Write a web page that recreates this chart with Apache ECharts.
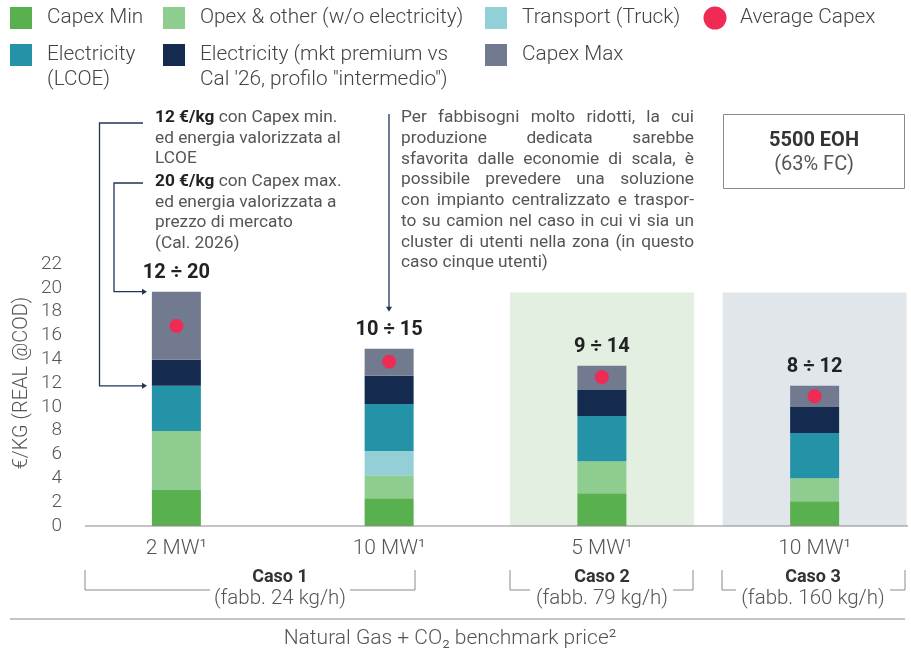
<!DOCTYPE html>
<html><head><meta charset="utf-8">
<script src="https://cdn.jsdelivr.net/npm/echarts@6/dist/echarts.min.js"></script>
<style>html,body{margin:0;padding:0;background:#fff}#c{width:911px;height:654px}</style>
</head><body><div id="c"></div><script>
// ---------- DATA ----------
const categories = ['2 MW¹', '10 MW¹', '5 MW¹', '10 MW¹'];
const capexMin    = [3.02, 2.32, 2.74, 2.07];
const opexOther   = [4.95, 1.94, 2.70, 1.94];
const transport   = [0, 2.03, 0, 0];
const elecLcoe    = [3.80, 3.96, 3.80, 3.80];
const elecPremium = [2.20, 2.37, 2.19, 2.19];
const capexMax    = [5.71, 2.27, 2.03, 1.77];
const averageCapex = [16.8, 13.8, 12.5, 10.9];
const rangeLabels = ['12 ÷ 20', '10 ÷ 15', '9 ÷ 14', '8 ÷ 12'];
const highlightTop = [null, null, 19.6, 19.6];
const yTicks = { min: 0, max: 22, interval: 2 };
const yName = '€/KG (REAL @COD)';
const xTitle = 'Natural Gas + CO₂ benchmark price²';

const COL = {
  capexMin: '#58b04f', opex: '#8fcc8f', transport: '#93cfd6', lcoe: '#2493a8',
  premium: '#142a4f', capexMax: '#717a8e', avg: '#ee2a55',
  bg2: '#e3efe1', bg3: '#e1e6ea', line: '#1f3558', grey: '#8a8a8a'
};
const FF = 'Roboto, "Noto Sans", sans-serif';

function T(x, y, text, size, o) {
  o = o || {};
  const align = o.align || 'left', va = o.va || 'middle';
  return { type: 'text', x: x, y: y, silent: true, z: 10,
    style: { text: text, fontSize: size, fontFamily: FF, fontWeight: o.weight || 400,
      fill: o.fill || '#555', align: align, textAlign: align, verticalAlign: va, textVerticalAlign: va,
      lineHeight: o.lh, rich: o.rich } };
}
function PL(points, color, w) {
  return { type: 'polyline', silent: true, z: 10, shape: { points: points },
    style: { stroke: color, lineWidth: w || 1, fill: null } };
}
function PG(points, color) {
  return { type: 'polygon', silent: true, z: 10, shape: { points: points }, style: { fill: color } };
}
function justified(lines, x, y0, width, lh, size, color) {
  const ctx = document.createElement('canvas').getContext('2d');
  ctx.font = '400 ' + size + 'px Roboto';
  const els = [];
  lines.forEach((ln, i) => {
    const y = y0 + i * lh;
    const words = ln.split(' ');
    if (i === lines.length - 1 || words.length === 1) { els.push(T(x, y, ln, size, { fill: color })); return; }
    const total = words.reduce((s, w) => s + ctx.measureText(w).width, 0);
    const gap = (width - total) / (words.length - 1);
    let cx = x;
    words.forEach(w => { els.push(T(cx, y, w, size, { fill: color })); cx += ctx.measureText(w).width + gap; });
  });
  return els;
}

const chart = echarts.init(document.getElementById('c'), null, { renderer: 'canvas' });
const barBase = { type: 'bar', stack: 'cost', barWidth: 49, z: 3, silent: true };

chart.setOption({
  animation: false,
  backgroundColor: '#fff',
  textStyle: { fontFamily: FF },
  grid: { left: 70, width: 851, top: 264, bottom: 128, containLabel: false, outerBoundsMode: 'none' },
  xAxis: [
    { type: 'category', data: categories, axisLine: { show: false }, axisTick: { show: false },
      axisLabel: { fontSize: 21, fontWeight: 300, color: '#555', margin: 12, fontFamily: FF } },
    { type: 'category', data: categories, show: false }
  ],
  yAxis: { type: 'value', min: yTicks.min, max: yTicks.max, interval: yTicks.interval,
    splitLine: { show: false }, axisLine: { show: false }, axisTick: { show: false },
    axisLabel: { fontSize: 19, fontWeight: 300, color: '#555', margin: 8, fontFamily: FF } },
  series: [
    { type: 'bar', name: 'bg', xAxisIndex: 1, barWidth: 184, silent: true, z: 1,
      data: highlightTop.map((v, i) => v == null ? null : { value: v, itemStyle: { color: i === 2 ? COL.bg2 : COL.bg3 } }) },
    Object.assign({}, barBase, { name: 'Capex Min', data: capexMin, itemStyle: { color: COL.capexMin } }),
    Object.assign({}, barBase, { name: 'Opex & other (w/o electricity)', data: opexOther, itemStyle: { color: COL.opex } }),
    Object.assign({}, barBase, { name: 'Transport (Truck)', data: transport, itemStyle: { color: COL.transport } }),
    Object.assign({}, barBase, { name: 'Electricity (LCOE)', data: elecLcoe, itemStyle: { color: COL.lcoe } }),
    Object.assign({}, barBase, { name: 'Electricity (mkt premium vs Cal \'26, profilo "intermedio")', data: elecPremium, itemStyle: { color: COL.premium } }),
    Object.assign({}, barBase, { name: 'Capex Max', data: capexMax, itemStyle: { color: COL.capexMax },
      label: { show: true, position: 'top', distance: 9, fontSize: 20, fontWeight: 'bold', color: '#222', fontFamily: FF,
        formatter: p => rangeLabels[p.dataIndex] } }),
    { type: 'scatter', name: 'Average Capex', data: averageCapex, symbolSize: 14, z: 5, silent: true,
      itemStyle: { color: COL.avg, opacity: 1 } }
  ]
});

// annotation anchors derived from the data via the axis scale
const yPix = v => chart.convertToPixel({ yAxisIndex: 0 }, v);
const yLow = yPix(capexMin[0] + opexOther[0] + transport[0] + elecLcoe[0]);
const yHigh = yPix(capexMin[0] + opexOther[0] + transport[0] + elecLcoe[0] + elecPremium[0] + capexMax[0]);
const yBar2 = yPix(capexMin[1] + opexOther[1] + transport[1] + elecLcoe[1] + elecPremium[1] + capexMax[1]);
const axisY = yPix(0);

const g = [];
// legend
const LS = 20.8;
const legendItems = [
  { x: 10, y: 7, c: COL.capexMin, t: 'Capex Min' },
  { x: 163, y: 7, c: COL.opex, t: 'Opex & other (w/o electricity)' },
  { x: 485, y: 7, c: COL.transport, t: 'Transport (Truck)' },
  { x: 10, y: 44, c: COL.lcoe, t: 'Electricity\n(LCOE)' },
  { x: 163, y: 44, c: COL.premium, t: 'Electricity (mkt premium vs\nCal \'26, profilo "intermedio")' },
  { x: 485, y: 44, c: COL.capexMax, t: 'Capex Max' }
];
legendItems.forEach(it => {
  g.push({ type: 'rect', silent: true, shape: { x: it.x, y: it.y, width: 22, height: 22 }, style: { fill: it.c } });
  g.push(T(it.x + 37, it.y + 11 - 12.5, it.t, LS, { va: 'top', lh: 25, weight: 300, fill: '#444' }));
});
g.push({ type: 'circle', silent: true, shape: { cx: 715, cy: 18, r: 11.5 }, style: { fill: COL.avg } });
g.push(T(740, 18 - 12.5, 'Average Capex', LS, { va: 'top', lh: 25, weight: 300, fill: '#444' }));

// axis line
g.push(PL([[85, axisY], [908, axisY]], COL.grey, 1.2));

// y axis name
g.push({ type: 'text', x: 22, y: 383, rotation: Math.PI / 2, silent: true,
  style: { text: yName, fontSize: 20, fontWeight: 300, fontFamily: FF, fill: '#555',
    align: 'center', textAlign: 'center', verticalAlign: 'middle', textVerticalAlign: 'middle' } });

// annotation 1
const AS = 17.3;
const rich = { b: { fontWeight: 'bold', fontSize: AS, fontFamily: FF, fill: '#222', color: '#222', lineHeight: 20.5 },
               n: { fontSize: AS, fontFamily: FF, fill: '#555', color: '#555', lineHeight: 20.5 } };
g.push(T(155, 118 - 10.25, '{b|12 €/kg}{n| con Capex min.}\n{n|ed energia valorizzata al}\n{n|LCOE}', AS, { va: 'top', lh: 20.5, rich: rich }));
g.push(T(155, 182 - 10.25, '{b|20 €/kg}{n| con Capex max.}\n{n|ed energia valorizzata a}\n{n|prezzo di mercato}\n{n|(Cal. 2026)}', AS, { va: 'top', lh: 20.5, rich: rich }));
g.push(PL([[143, 123], [99.5, 123], [99.5, yLow], [144, yLow]], COL.line, 1.3));
g.push(PG([[142, yLow - 3], [147, yLow], [142, yLow + 3]], COL.line));
g.push(PL([[143, 183], [114, 183], [114, yHigh], [144, yHigh]], COL.line, 1.3));
g.push(PG([[142, yHigh - 3], [147, yHigh], [142, yHigh + 3]], COL.line));

// annotation 2
g.push(PL([[389, 114], [389, yBar2 - 40]], COL.line, 1.3));
g.push(PG([[386, yBar2 - 42], [389, yBar2 - 37], [392, yBar2 - 42]], COL.line));
g.push.apply(g, justified([
  'Per fabbisogni molto ridotti, la cui',
  'produzione dedicata sarebbe',
  'sfavorita dalle economie di scala, è',
  'possibile prevedere una soluzione',
  'con impianto centralizzato e traspor-',
  'to su camion nel caso in cui vi sia un',
  'cluster di utenti nella zona (in questo',
  'caso cinque utenti)'
], 401, 118, 293, 20.7, AS, '#555'));

// EOH box
g.push({ type: 'rect', silent: true, shape: { x: 723.5, y: 114.5, width: 181, height: 74 },
  style: { fill: null, stroke: COL.grey, lineWidth: 1 } });
g.push(T(814, 141, '5500 EOH', 20, { align: 'center', weight: 'bold', fill: '#333' }));
g.push(T(814, 165, '(63% FC)', 20, { align: 'center', fill: '#555' }));

// case brackets
const br = '#8a8a8a';
g.push(PL([[85, 570], [85, 590], [210, 590]], br, 1));
g.push(PL([[350, 590], [415, 590], [415, 570]], br, 1));
g.push(PL([[510, 570], [510, 590], [530, 590]], br, 1));
g.push(PL([[673, 590], [693, 590], [693, 570]], br, 1));
g.push(PL([[722, 570], [722, 590], [736, 590]], br, 1));
g.push(PL([[890, 590], [905, 590], [905, 570]], br, 1));
[[280, 'Caso 1', '(fabb. 24 kg/h)'], [602, 'Caso 2', '(fabb. 79 kg/h)'], [813, 'Caso 3', '(fabb. 160 kg/h)']].forEach(c => {
  g.push(T(c[0], 577, c[1], 18, { align: 'center', weight: 'bold', fill: '#333' }));
  g.push(T(c[0], 599, c[2], 20.5, { align: 'center', weight: 300, fill: '#555' }));
});
g.push(PL([[10, 619], [905, 619]], br, 1));
g.push(T(450, 639, xTitle, 21, { align: 'center', weight: 300, fill: '#555' }));

chart.setOption({ graphic: { elements: g } });
</script></body></html>
